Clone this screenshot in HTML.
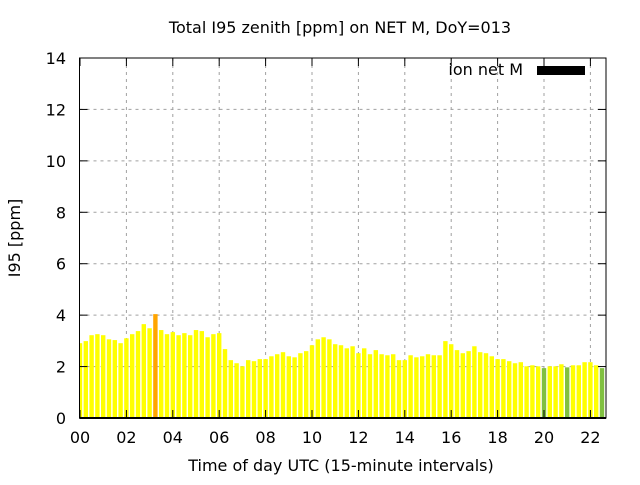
<!DOCTYPE html>
<html><head><meta charset="utf-8"><style>
html,body{margin:0;padding:0;background:#fff}
svg text{font-family:"DejaVu Sans","Liberation Sans",sans-serif;fill:#000}
</style></head><body>
<svg id="chart" width="640" height="480" xmlns="http://www.w3.org/2000/svg">
<text x="340" y="33" font-size="16" text-anchor="middle">Total I95 zenith [ppm] on NET M, DoY=013</text>
<text transform="translate(20,238) rotate(-90)" font-size="16" text-anchor="middle">I95 [ppm]</text>
<text x="341" y="471" font-size="16" text-anchor="middle">Time of day UTC (15-minute intervals)</text>
<g id="grid"></g>
<g id="bars"></g>
<g id="axes"></g>
<g>
<text x="523" y="75" font-size="16" text-anchor="end">ion net M</text>
<rect x="537" y="66" width="48" height="9" fill="#000"/>
</g>
</svg>
<script>
const values = [2.91,2.99,3.22,3.26,3.22,3.06,3.03,2.91,3.10,3.26,3.38,3.65,3.49,4.04,3.42,3.26,3.34,3.22,3.30,3.22,3.42,3.38,3.14,3.26,3.30,2.68,2.25,2.13,2.01,2.25,2.21,2.29,2.29,2.40,2.48,2.56,2.40,2.36,2.52,2.60,2.83,3.06,3.14,3.06,2.87,2.83,2.71,2.79,2.52,2.71,2.48,2.64,2.48,2.44,2.48,2.25,2.25,2.44,2.36,2.40,2.48,2.44,2.44,2.99,2.87,2.64,2.52,2.60,2.79,2.56,2.52,2.40,2.29,2.29,2.21,2.13,2.17,2.01,2.05,2.01,1.94,2.01,2.01,2.09,1.97,2.05,2.05,2.17,2.17,2.05,1.94,2.00];
const colors = values.map((v,i)=> i===13 ? '#ffa500' : ([80,84,90,91].includes(i) ? '#80c040' : '#ffff00'));
const yTicks = [0,2,4,6,8,10,12,14];
const xTicks = ['00','02','04','06','08','10','12','14','16','18','20','22'];
const L=79.5,R=606,T=58,B=418,pitch=5.8;
const ns='http://www.w3.org/2000/svg';
const y=v=>B-(v/14)*(B-T);
const x=i=>80+i*pitch;
function mk(tag,attrs,parent){const e=document.createElementNS(ns,tag);for(const k in attrs)e.setAttribute(k,attrs[k]);parent.appendChild(e);return e;}
const grid=document.getElementById('grid'),bars=document.getElementById('bars'),axes=document.getElementById('axes');
yTicks.forEach(t=>{
  if(t>0&&t<14){const g=mk('line',{x1:L,x2:R,y1:y(t),y2:y(t),stroke:'#a0a0a0','stroke-dasharray':'3,4','stroke-width':1},grid);
  
  }
  const tl=mk('text',{x:66,y:y(t)+6,'font-size':16,'text-anchor':'end'},axes);tl.textContent=t;
  
  
  mk('line',{x1:L,x2:L+8,y1:y(t),y2:y(t),stroke:'#000'},axes);
  mk('line',{x1:R,x2:R-8,y1:y(t),y2:y(t),stroke:'#000'},axes);
});
xTicks.forEach((t,k)=>{
  const xx=x(k*8);
  if(k>0){const g=mk('line',{x1:xx,x2:xx,y1:T,y2:B,stroke:'#a0a0a0','stroke-dasharray':'3,4','stroke-width':1},grid);
  
  }
  const tl=mk('text',{x:xx,y:443,'font-size':16,'text-anchor':'middle'},axes);tl.textContent=t;
  
  
  mk('line',{x1:xx,x2:xx,y1:B,y2:B-8,stroke:'#000'},axes);
  mk('line',{x1:xx,x2:xx,y1:T,y2:T+8,stroke:'#000'},axes);
});
values.forEach((v,i)=>{
  let x0=x(i)-2.2,x1=x(i)+2.2;x0=Math.max(x0,L);x1=Math.min(x1,R);
  const r=mk('rect',{x:x0,y:y(v),width:Math.max(0,x1-x0),height:B-y(v),fill:colors[i]},bars);
  
  
});
const f=mk('rect',{x:L,y:T,width:R-L,height:B-T,fill:'none',stroke:'#000','stroke-width':1},axes);


const bl=mk('line',{x1:L,x2:R,y1:B,y2:B,stroke:'#000','stroke-width':2},axes);


</script>
</body></html>
